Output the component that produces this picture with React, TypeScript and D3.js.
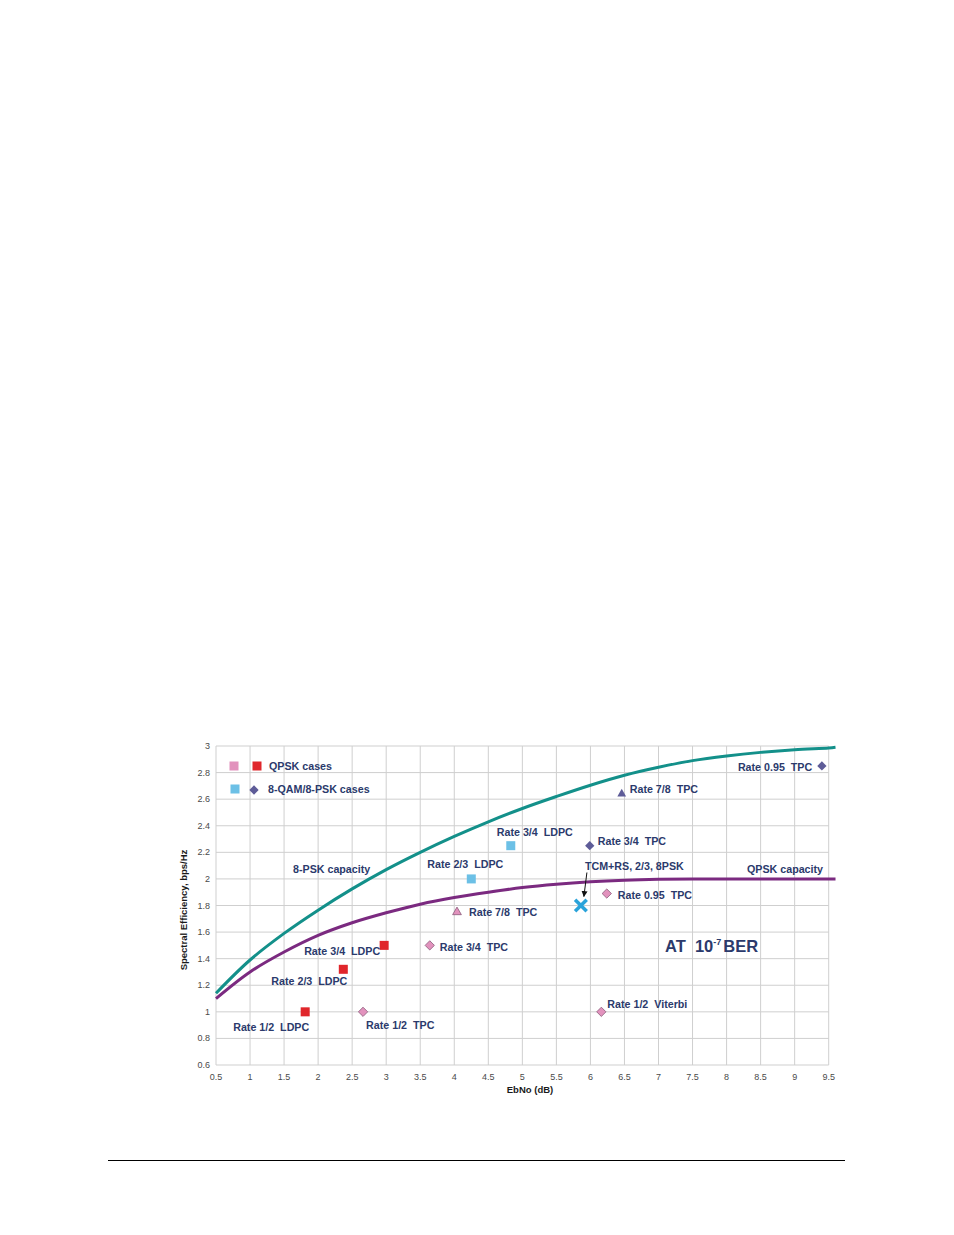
import React, { useEffect, useRef } from "react";
import * as d3 from "d3";

// capacity curves (EbNo dB -> bps/Hz)
const capEbNo = [0.5, 1, 1.5, 2, 2.5, 3, 3.5, 4, 4.5, 5, 5.5, 6, 6.5, 7, 7.5, 8, 8.5, 9, 9.5, 9.6];
const psk8Cap = [1.14, 1.39, 1.59, 1.765, 1.925, 2.07, 2.2, 2.32, 2.43, 2.53, 2.62, 2.705, 2.78, 2.84, 2.89, 2.925, 2.952, 2.972, 2.985, 2.99];
const qpskCap = [1.1, 1.3, 1.45, 1.575, 1.67, 1.745, 1.81, 1.86, 1.9, 1.935, 1.96, 1.978, 1.99, 1.997, 2, 2, 2, 2, 2, 2];

// operating points
const pointNames = [
  "Rate 1/2  LDPC", "Rate 2/3  LDPC", "Rate 3/4  LDPC",
  "Rate 1/2  TPC", "Rate 3/4  TPC", "Rate 7/8  TPC", "Rate 0.95  TPC", "Rate 1/2  Viterbi",
  "Rate 2/3  LDPC", "Rate 3/4  LDPC", "Rate 3/4  TPC", "Rate 7/8  TPC", "Rate 0.95  TPC",
  "TCM+RS, 2/3, 8PSK",
];
const pointEbNo = [1.81, 2.37, 2.97, 2.66, 3.64, 4.04, 6.24, 6.16, 4.25, 4.83, 5.99, 6.46, 9.4, 5.86];
const pointSE = [1.0, 1.32, 1.5, 1.0, 1.5, 1.75, 1.89, 1.0, 2.0, 2.25, 2.25, 2.64, 2.85, 1.8];
const pointShape = ["sq", "sq", "sq", "dia", "dia", "tri", "dia", "dia", "sq", "sq", "dia", "tri", "dia", "x"];
const pointKind = ["qL", "qL", "qL", "qT", "qT", "qT", "qT", "qT", "pL", "pL", "pT", "pT", "pT", "x"];
// label offsets relative to the marker (px)
const labelDx = [-72, -72, -80, 3, 10, 12, 11, 6, -44, -14, 8, 8, -84, 4];
const labelDy = [15, 12, 6, 13, 2, 0, 1, -8, -15, -14, -5, -5, 1, -40];

const xTicks = d3.range(0.5, 9.51, 0.5);
const yTicks = d3.range(0.6, 3.001, 0.2);

const colors: Record<string, string> = {
  qL: "#e0262b",
  qT: "#e292bd",
  pL: "#6cc0e6",
  pT: "#5e5c98",
  x: "#2aa3da",
};
const textColor = "#2b3a6c";

const App = () => {
  const ref = useRef<SVGSVGElement>(null);

  useEffect(() => {
    const svg = d3.select(ref.current);
    svg.selectAll("*").remove();

    const x = d3.scaleLinear().domain([0.5, 9.5]).range([216, 828.7]);
    const y = d3.scaleLinear().domain([0.6, 3]).range([1065, 746]);

    const font = "Arial, 'Liberation Sans', sans-serif";

    // grid
    const grid = svg.append("g").attr("stroke", "#cfcfcf").attr("stroke-width", 1);
    grid.selectAll("line.v").data(xTicks).join("line")
      .attr("x1", d => x(d)).attr("x2", d => x(d))
      .attr("y1", y(3)).attr("y2", y(0.6));
    grid.selectAll("line.h").data(yTicks).join("line")
      .attr("y1", d => y(d)).attr("y2", d => y(d))
      .attr("x1", x(0.5)).attr("x2", x(9.5));

    // tick labels
    svg.append("g").selectAll("text").data(xTicks).join("text")
      .attr("x", d => x(d)).attr("y", y(0.6) + 15)
      .attr("text-anchor", "middle")
      .attr("font-family", font).attr("font-size", 9).attr("fill", "#4a4a4a")
      .text(d => d3.format("~g")(d));
    svg.append("g").selectAll("text").data(yTicks).join("text")
      .attr("x", x(0.5) - 6).attr("y", d => y(d) + 3)
      .attr("text-anchor", "end")
      .attr("font-family", font).attr("font-size", 9).attr("fill", "#4a4a4a")
      .text(d => d3.format("~g")(+d.toFixed(1)));

    // axis titles
    svg.append("text")
      .attr("x", 530).attr("y", 1093).attr("text-anchor", "middle")
      .attr("font-family", font).attr("font-size", 9.5).attr("font-weight", "bold").attr("fill", "#1a1a1a")
      .text("EbNo (dB)");
    svg.append("text")
      .attr("transform", `translate(187,${910}) rotate(-90)`).attr("text-anchor", "middle")
      .attr("font-family", font).attr("font-size", 9.5).attr("font-weight", "bold").attr("fill", "#1a1a1a")
      .text("Spectral Efficiency, bps/Hz");

    // curves
    const line = d3.line<number>().x((_, i) => x(capEbNo[i])).curve(d3.curveCatmullRom.alpha(0.5));
    svg.append("path").attr("d", line.y(d => y(d))(psk8Cap))
      .attr("fill", "none").attr("stroke", "#13908a").attr("stroke-width", 3);
    svg.append("path").attr("d", line.y(d => y(d))(qpskCap))
      .attr("fill", "none").attr("stroke", "#7b2a80").attr("stroke-width", 3);

    const lbl = (tx: number, ty: number, t: string) =>
      svg.append("text").attr("x", tx).attr("y", ty)
        .attr("font-family", font).attr("font-size", 10.7).attr("font-weight", "bold")
        .attr("fill", textColor).attr("xml:space", "preserve").style("white-space", "pre").text(t);

    lbl(293, 873, "8-PSK capacity");
    lbl(747, 873, "QPSK capacity");

    // markers
    const drawMarker = (g: d3.Selection<SVGGElement, unknown, null, undefined>, shape: string, kind: string) => {
      const fill = colors[kind];
      if (shape === "sq") {
        g.append("rect").attr("x", -4.5).attr("y", -4.5).attr("width", 9).attr("height", 9).attr("fill", fill);
      } else if (shape === "dia") {
        g.append("path").attr("d", d3.symbol(d3.symbolDiamond2, 55)())
          .attr("fill", fill).attr("stroke", kind === "qT" ? "#8a5a7a" : "none").attr("stroke-width", 0.8);
      } else if (shape === "tri") {
        g.append("path").attr("d", d3.symbol(d3.symbolTriangle2, 55)())
          .attr("fill", fill).attr("stroke", kind === "qT" ? "#8a5a7a" : "none").attr("stroke-width", 0.8);
      } else {
        g.append("path").attr("d", d3.symbol(d3.symbolX, 90)())
          .attr("fill", "none").attr("stroke", fill).attr("stroke-width", 3.5);
      }
    };

    pointEbNo.forEach((e, i) => {
      const px = x(e), py = y(pointSE[i]);
      const g = svg.append("g").attr("transform", `translate(${px},${py})`);
      drawMarker(g, pointShape[i], pointKind[i]);
      lbl(px + labelDx[i], py + labelDy[i] + 4, pointNames[i]);
    });

    // arrow for TCM+RS
    const tx = x(pointEbNo[13]), ty = y(pointSE[13]);
    svg.append("defs").append("marker").attr("id", "ah").attr("viewBox", "0 0 10 10")
      .attr("refX", 9).attr("refY", 5).attr("markerWidth", 6).attr("markerHeight", 6).attr("orient", "auto")
      .append("path").attr("d", "M0,0L10,5L0,10z").attr("fill", "#111");
    svg.append("line").attr("x1", tx + 6).attr("y1", ty - 33).attr("x2", tx + 3).attr("y2", ty - 9)
      .attr("stroke", "#111").attr("stroke-width", 1).attr("marker-end", "url(#ah)");

    // legend
    const lg1 = svg.append("g").attr("transform", "translate(234,766)");
    drawMarker(lg1, "sq", "qT");
    const lg2 = svg.append("g").attr("transform", "translate(257,766)");
    drawMarker(lg2, "sq", "qL");
    lbl(269, 770, "QPSK cases");
    const lg3 = svg.append("g").attr("transform", "translate(235,789)");
    drawMarker(lg3, "sq", "pL");
    const lg4 = svg.append("g").attr("transform", "translate(254,790)");
    drawMarker(lg4, "dia", "pT");
    lbl(268, 793, "8-QAM/8-PSK cases");

    // annotation
    const at = svg.append("text").attr("x", 665).attr("y", 952)
      .attr("font-family", font).attr("font-size", 16.5).attr("font-weight", "bold").attr("fill", textColor)
      .attr("xml:space", "preserve").style("white-space", "pre");
    at.append("tspan").text("AT  10");
    at.append("tspan").attr("font-size", 9).attr("dy", -7).text("-7");
    at.append("tspan").attr("dy", 7).attr("dx", 2).text("BER");

    // footer rule
    svg.append("line").attr("x1", 108).attr("x2", 845).attr("y1", 1160.5).attr("y2", 1160.5)
      .attr("stroke", "#000").attr("stroke-width", 1.2);
  }, []);

  return (
    <svg ref={ref} width={954} height={1235}
      style={{ position: "absolute", left: 0, top: 0, background: "#fff" }} />
  );
};

export default App;
